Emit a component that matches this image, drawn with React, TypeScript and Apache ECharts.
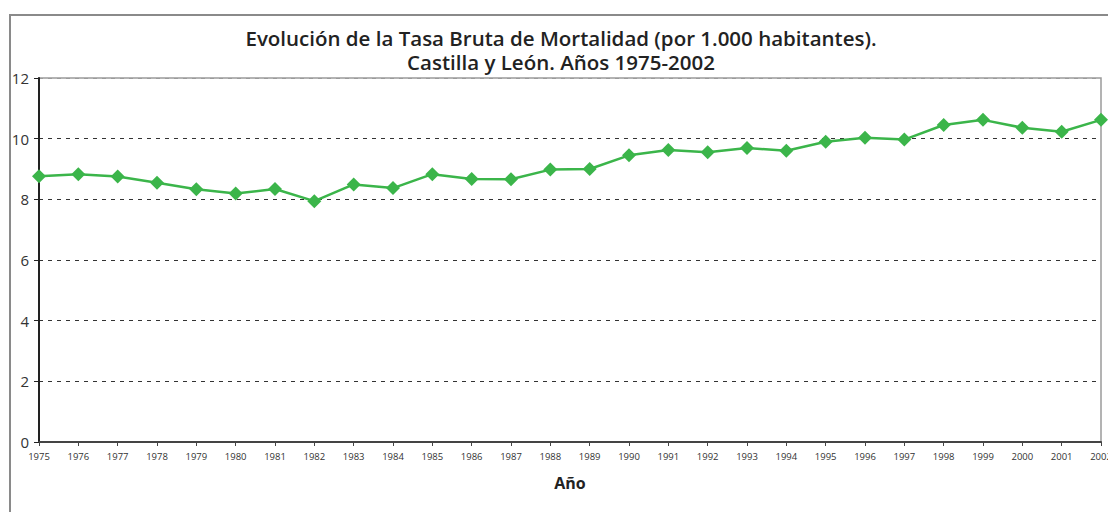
import React, { useEffect, useRef } from "react";
import * as echarts from "echarts";

const years: string[] = [
  "1975", "1976", "1977", "1978", "1979", "1980", "1981", "1982", "1983", "1984",
  "1985", "1986", "1987", "1988", "1989", "1990", "1991", "1992", "1993", "1994",
  "1995", "1996", "1997", "1998", "1999", "2000", "2001", "2002",
];
const tasaMortalidad: number[] = [
  8.76, 8.83, 8.75, 8.55, 8.33, 8.19, 8.34, 7.94, 8.49, 8.37,
  8.83, 8.67, 8.66, 8.98, 9.0, 9.45, 9.63, 9.55, 9.69, 9.6,
  9.9, 10.03, 9.97, 10.45, 10.62, 10.36, 10.23, 10.62,
];
const titleLine1 = "Evolución de la Tasa Bruta de Mortalidad (por 1.000 habitantes).";
const titleLine2 = "Castilla y León. Años 1975-2002";
const xAxisName = "Año";

export default function App() {
  const ref = useRef<HTMLDivElement>(null);
  useEffect(() => {
    if (!ref.current) return;
    const chart = echarts.init(ref.current, null, { renderer: "svg" });
    const titleStyle = {
      fontFamily: "Open Sans",
      fontSize: 20.5,
      fontWeight: 600,
      color: "#222",
      lineHeight: 21,
    };
    chart.setOption({
      animation: false,
      backgroundColor: "#ffffff",
      title: [
        { text: titleLine1, left: 561, textAlign: "center", top: 27, padding: 0, textStyle: titleStyle },
        { text: titleLine2, left: 561, textAlign: "center", top: 51, padding: 0, textStyle: titleStyle },
      ],
      graphic: [
        {
          type: "rect",
          shape: { x: 10, y: 15, width: 1120, height: 520 },
          style: { fill: "none", stroke: "#8a8a8a", lineWidth: 2 },
          silent: true,
        },
      ],
      grid: {
        left: 39,
        right: 7,
        top: 78,
        bottom: 70,
        show: true,
        borderColor: "#9a9a9a",
        borderWidth: 1.5,
        backgroundColor: "transparent",
        containLabel: false,
        outerBoundsMode: "none",
      },
      xAxis: {
        type: "category",
        data: years,
        boundaryGap: false,
        name: xAxisName,
        nameLocation: "middle",
        nameGap: 33,
        nameTextStyle: {
          fontFamily: "Open Sans",
          fontSize: 16,
          fontWeight: 700,
          color: "#222",
        },
        axisLine: { lineStyle: { color: "#444", width: 2 } },
        axisTick: { show: true, length: 4, lineStyle: { color: "#444" } },
        axisLabel: {
          interval: 0,
          margin: 9,
          fontFamily: "Open Sans",
          fontSize: 9.5,
          color: "#333",
        },
        splitLine: { show: false },
      },
      yAxis: {
        type: "value",
        min: 0,
        max: 12,
        interval: 2,
        axisLine: { show: true, lineStyle: { color: "#222", width: 2 } },
        axisTick: { show: true, length: 5, lineStyle: { color: "#222" } },
        axisLabel: {
          margin: 10,
          fontFamily: "Open Sans",
          fontSize: 15,
          color: "#333",
        },
        splitLine: {
          show: true,
          lineStyle: {
            color: ["#333", "#333", "#333", "#333", "#333", "#333", "#9a9a9a"],
            type: [4, 5],
            width: 1,
          },
        },
      },
      series: [
        {
          type: "line",
          data: tasaMortalidad,
          symbol: "diamond",
          symbolSize: 14,
          clip: false,
          lineStyle: { color: "#3bb54a", width: 2.5 },
          itemStyle: { color: "#3bb54a" },
        },
      ],
    });
    return () => chart.dispose();
  }, []);
  return (
    <div
      ref={ref}
      style={{ position: "fixed", left: 0, top: 0, width: 1108, height: 512 }}
    />
  );
}
